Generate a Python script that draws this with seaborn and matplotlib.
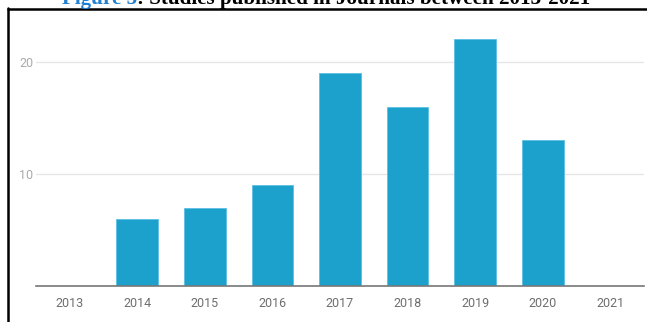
import matplotlib
matplotlib.use("Agg")
import matplotlib.pyplot as plt
import seaborn as sns
import pandas as pd
from matplotlib.lines import Line2D

years = ["2013", "2014", "2015", "2016", "2017", "2018", "2019", "2020", "2021"]
studies = [0, 6, 7, 9, 19, 16, 22, 13, 0]
y_ticks = [10, 20]

df = pd.DataFrame({"year": years, "studies": studies})

sns.set_theme(style="white")
plt.rcParams["font.family"] = ["Roboto", "DejaVu Sans"]

fig = plt.figure(figsize=(6.47, 3.22), dpi=100)
ax = fig.add_axes([36 / 647, 1 - 286 / 322, (644 - 36) / 647, (286 - 17) / 322])

sns.barplot(data=df, x="year", y="studies", color="#1ba1cc", saturation=1,
            width=0.62, ax=ax, edgecolor="#5cc0e4", linewidth=0.6)

ax.set_ylim(0, 24)
ax.set_xlim(-0.5, len(years) - 0.5)
ax.set_yticks(y_ticks)
ax.set_xlabel("")
ax.set_ylabel("")
ax.grid(axis="y", color="#e6e6e6", linewidth=1)
ax.set_axisbelow(True)
for side in ["top", "right", "left"]:
    ax.spines[side].set_visible(False)
ax.spines["bottom"].set_color("#777777")
ax.spines["bottom"].set_linewidth(1.2)
ax.tick_params(axis="x", colors="#777777", labelsize=9, length=0, pad=8)
ax.tick_params(axis="y", colors="#aaaaaa", labelsize=9, length=0, pad=2)
for lbl in ax.get_xticklabels():
    lbl.set_color("#6e6e6e")

# Black frame lines on the left and top of the figure
fig.add_artist(Line2D([7.5 / 647, 7.5 / 647], [0, 1 - 8 / 322], transform=fig.transFigure,
                      color="black", linewidth=1.8))
fig.add_artist(Line2D([7.5 / 647, 1], [1 - 8.8 / 322, 1 - 8.8 / 322], transform=fig.transFigure,
                      color="black", linewidth=1.8))

# Caption above the frame
cap_y = 1 - 4 / 322
t1 = fig.text(62 / 647, cap_y, "Figure 5", color="#1f7fd0", fontsize=15.2, fontweight="bold",
              family="Liberation Serif", va="baseline", ha="left")
fig.canvas.draw()
bb = t1.get_window_extent()
fig.text(bb.x1 / fig.bbox.width, cap_y,
         ": Studies published in Journals between 2013-2021", color="black", fontsize=15.2,
         fontweight="bold", family="Liberation Serif", va="baseline", ha="left")

fig.savefig("out.png", dpi=100)
